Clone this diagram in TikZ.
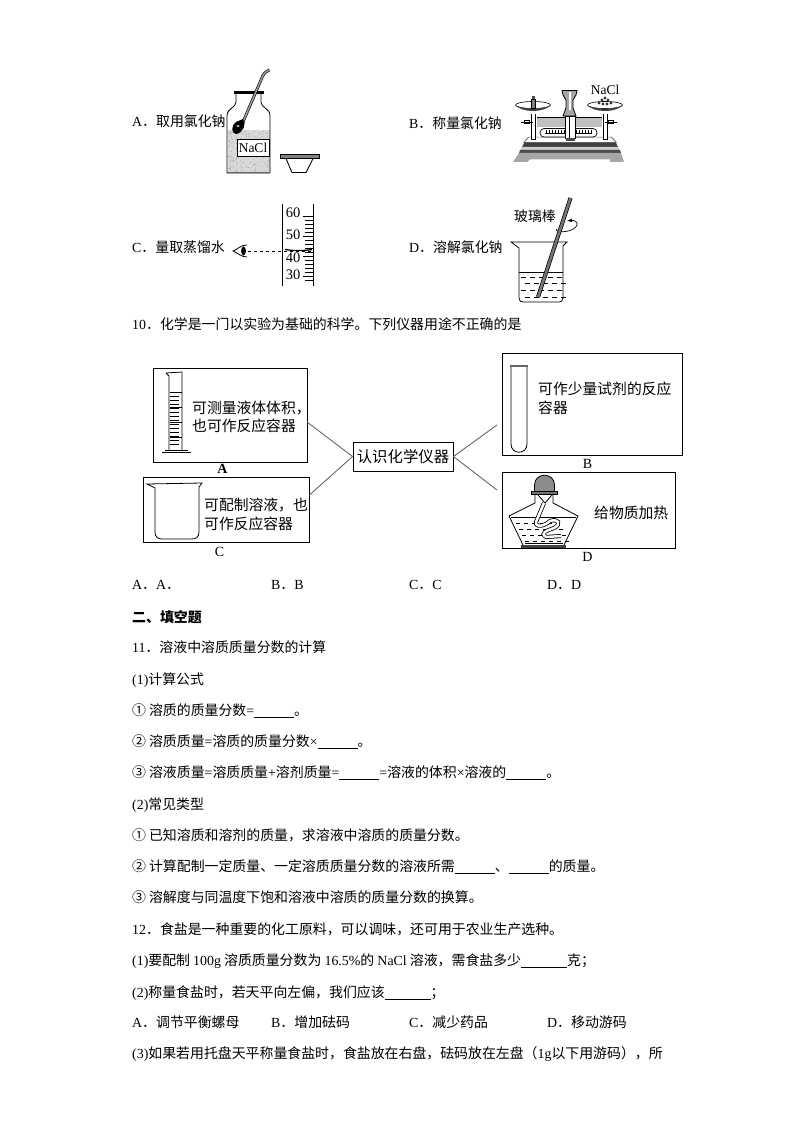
\documentclass[tikz,border=0pt]{standalone}
\usepackage{fontspec}
\setmainfont{Noto Sans CJK SC}
\newfontfamily\latinfont{Liberation Serif}
\usetikzlibrary{positioning, calc}
\newcommand{\Lat}[1]{{\latinfont #1}}
\newcommand{\Blank}[1][40pt]{\rule[-2.5pt]{#1}{.8pt}}
\newcommand{\Num}[1]{#1\kern3pt\relax}
\tikzset{
    row/.style={anchor=west, inner sep=0pt, text height=12pt, text depth=2.5pt, font=\fontsize{13.9}{15}\selectfont},
    boxtext/.style={anchor=west, inner sep=0pt, align=left, font=\fontsize{14.8}{18.5}\selectfont},
    serif/.style={inner sep=0pt, font=\latinfont\fontsize{14}{15}\selectfont},
    framebox/.style={draw, line width=.9pt, anchor=north west, inner sep=0pt},
    link/.style={draw=black!60, line width=.9pt},
    glass/.style={line width=.8pt, rounded corners=0pt},
    rod/.style={double=black!55, double distance=2.6pt, line width=.7pt},
    pan/.pic = {
    \draw[line width=.6pt] (0,0) ellipse (17.5 and 3.5);
    \fill[black!75] (-17.5,0) .. controls (-12,8) and (12,8) .. (17.5,0) .. controls (12,5) and (-12,5) .. cycle;
    \fill[white] (-13,8) rectangle (13,9);
    },
    knob/.pic = {
    \draw[line width=.7pt, fill=white] (-2.5,-1.5) rectangle (2.5,1.5);
    \draw[line width=.8pt] (-6,0) -- (6,0);
    },
}

\begin{document}
\begin{tikzpicture}[x=1pt, y=-1pt, line cap=butt]
    \useasboundingbox (0,0) rectangle (794,1123);

    % options of question 9
    \node[row] (optA) at (132,122) {\Lat{A}．取用氯化钠};
    \node[row] (optB) at (409,124) {\Lat{B}．称量氯化钠};
    \node[row] (optC) at (132,248) {\Lat{C}．量取蒸馏水};
    \node[row] (optD) at (409,248) {\Lat{D}．溶解氯化钠};

    % jar and dish
    \fill[black!15] (227.5,130) -- (269.5,130) -- (269.5,172) -- (227.5,172) -- cycle;
    \foreach \i in {1,...,260}
      \fill[black!55] ({228+41*rnd},{131+41*rnd}) circle (.3);
    \draw[glass] (236,92) -- (236,102) .. controls (236,108) and (227,108) .. (227,116) -- (227,173) -- (270,173) -- (270,116) .. controls (270,108) and (261,108) .. (261,102) -- (261,92);
    \draw[line width=2.4pt] (234,92.5) -- (264,92.5);
    \draw[line width=1.4pt, black!60] (228,172.5) -- (269,172.5);
    \node[draw, fill=white, line width=.7pt, minimum width=32pt, minimum height=17.5pt, inner sep=0pt, font=\latinfont\fontsize{13.5}{15}\selectfont] (jarlabel) at (253,148) {NaCl};
    \draw[double=black!40, double distance=1.6pt, line width=.6pt] (269.5,70) .. controls (265,72) and (263,74) .. (261,80) -- (243,122);
    \fill[black] (243,119) .. controls (247,124) and (243,133) .. (236,134) .. controls (231,134) and (231,125) .. (236,122) -- cycle;
    \fill[white] (238,126) ellipse (1.8 and .8);
    \draw[fill=black!50, line width=.5pt] (280,154) rectangle (319,158.5);
    \draw[line width=.9pt] (286,158.5) -- (292,172.5) -- (306,172.5) -- (313,158.5);

    % measuring cylinder and eye
    \draw[line width=.9pt] (282,204) -- (282,286);
    \draw[line width=.9pt] (313,204) -- (313,286);
    \foreach \y in {216,220,...,280}
      \draw[line width=.6pt] (305,\y) -- (313,\y);
    \foreach \y in {216,236,256,276}
      \draw[line width=.6pt] (303,\y) -- (313,\y);
    \node[serif, font=\latinfont\fontsize{14.5}{15}\selectfont] (mark60) at (293,213) {60};
    \node[serif, font=\latinfont\fontsize{14.5}{15}\selectfont] (mark50) at (293,235) {50};
    \node[serif, font=\latinfont\fontsize{14.5}{15}\selectfont] (mark40) at (293,258) {40};
    \node[serif, font=\latinfont\fontsize{14.5}{15}\selectfont] (mark30) at (293,275) {30};
    \draw[line width=1.3pt] (285,249.5) .. controls (295,251) and (302,251) .. (312,249.5);
    \draw[dashed, line width=.7pt] (248,251) -- (314,251);
    \draw[line width=.8pt] (247,245) .. controls (241,245) and (238,249) .. (233,251) .. controls (238,253) and (241,257) .. (247,257);
    \fill (243.5,251) ellipse (2.4 and 4.5);

    % balance
    \fill[black!25] (537,117) rectangle (602,127);
    \draw[line width=.6pt] (537,117) -- (602,117);
    \fill[black!60] (528,137) -- (612,137) -- (617,143) -- (523,143) -- cycle;
    \fill[white] (529,137.5) -- (611,137.5) -- (615,142) -- (525,142) -- cycle;
    \fill[black!75] (524,143) -- (616,143) -- (618,147) -- (522,147) -- cycle;
    \fill[black!20] (522,147) -- (618,147) -- (620,150) -- (520,150) -- cycle;
    \fill[black!70] (520,150) -- (620,150) -- (621,153) -- (519,153) -- cycle;
    \fill[black!35] (519,153) -- (621,153) -- (624,162) -- (610,162) -- (610,159.5) -- (530,159.5) -- (527,162) -- (513,162) -- cycle;
    \draw[rounded corners=4pt, line width=.7pt, fill=white] (540,128.5) rectangle (597,137);
    \foreach \x in {546,549,...,591}
      \draw[line width=.5pt] (\x,130) -- (\x,133);
    \draw[line width=.7pt] (545,133) -- (592,133);
    \draw[line width=1pt, fill=white] (531.5,114) rectangle (535,140);
    \draw[line width=1pt, fill=white] (603.5,114) rectangle (607,140);
    \pic at (533,105) {pan};
    \pic at (605,105) {pan};
    \pic at (527,122) {knob};
    \pic at (611,122) {knob};
    \draw[fill=black!50, line width=.5pt] (531,99) rectangle (535.5,108);
    \fill[black!70] (532,96) rectangle (534.5,99);
    \foreach \x/\y in {599/103, 602/100, 605/98, 608/100, 611/103, 603/104, 607/104}
      \fill[black!80] (\x,\y) circle (1.6);
    \draw[line width=.8pt, fill=black!35] (562,90.5) -- (577,90.5) -- (576,95) -- (573,100) -- (573,108) -- (576,116) -- (563,116) -- (566,108) -- (566,100) -- (563,95) -- cycle;
    \fill[white] (568.5,92) rectangle (570.5,110);
    \draw[line width=.9pt, fill=white] (565,116) rectangle (575,138);
    \draw[line width=.7pt] (569.5,116) -- (569.5,138);
    \fill[black!70] (565.5,138) rectangle (574.5,141);
    \node[serif, font=\latinfont\fontsize{13.5}{15}\selectfont] (panlabel) at (605,90) {NaCl};

    % beaker with stirring rod
    \draw[glass] (511,242) -- (567,242) -- (563,246) -- (563,298) .. controls (563,301) and (561,302) .. (559,302) -- (523,302) .. controls (521,302) and (519,301) .. (519,298) -- (519,248) -- cycle;
    \draw[line width=.8pt] (519,272) -- (563,272);
    \foreach \y/\s in {277/521, 283/525, 290/521, 297/525}
      \foreach \x in {0,9,18,27,36}
        \draw[line width=.6pt] ({\s+\x},\y) -- ({\s+\x+5},\y);
    \draw[line width=.7pt] (556,229) .. controls (556,234) and (575,232) .. (577,225);
    \draw[rod] (570.5,198) -- (538,297);
    \draw[-latex, line width=.7pt] (577,225) .. controls (578,222) and (574,220) .. (567,221);
    \node[row, anchor=center] (rodlabel) at (535,217) {玻璃棒};

    % question 10
    \node[row] (q10) at (132,325) {\Lat{10}．化学是一门以实验为基础的科学。下列仪器用途不正确的是};

    \node[framebox, minimum width=154pt, minimum height=94pt] (boxA) at (153,368) {};
    \node[framebox, minimum width=166pt, minimum height=65pt] (boxC) at (143,477) {};
    \node[framebox, minimum width=180pt, minimum height=102pt] (boxB) at (502,353) {};
    \node[framebox, minimum width=173pt, minimum height=76pt] (boxD) at (502,472) {};
    \node[draw, line width=.9pt, minimum width=100pt, minimum height=29pt, inner sep=0pt, font=\fontsize{15.4}{18}\selectfont] (hub) at (403,456.5) {认识化学仪器};

    \node[boxtext] (textA) at (192,417) {可测量液体体积，\\也可作反应容器};
    \node[boxtext] (textC) at (204,514.5) {可配制溶液，也\\可作反应容器};
    \node[boxtext] (textB) at (538,398.5) {可作少量试剂的反应\\容器};
    \node[boxtext] (textD) at (594,512.5) {给物质加热};

    \node[serif, font=\latinfont\bfseries\fontsize{14}{15}\selectfont, below=1.5pt of boxA.south, xshift=-8pt] (capA) {A};
    \node[serif, below=4.5pt of boxC.south, xshift=-7pt] (capC) {C};
    \node[serif, below=3pt of boxB.south, xshift=-5pt] (capB) {B};
    \node[serif, below=3pt of boxD.south, xshift=-1.5pt] (capD) {D};

    \coordinate (endA) at (307,422);
    \coordinate (endC) at (309.5,495);
    \coordinate (endB) at (497,425);
    \coordinate (endD) at (497,490);
    \draw[link] (hub.west) -- (endA);
    \draw[link] (hub.west) -- (endC);
    \draw[link] (hub.east) -- (endB);
    \draw[link] (hub.east) -- (endD);

    % graduated cylinder in box A
    \draw[glass] (166,373) -- (182,372) -- (182,451);
    \draw[glass] (166,373) -- (169,376) -- (169,451);
    \draw[line width=.8pt] (162,452.5) -- (191,452.5);
    \draw[line width=.6pt] (165,450.5) -- (188,450.5);
    \foreach \y in {392,396,...,446}
      \draw[line width=.6pt] (170,\y) -- (179,\y);
    \foreach \y in {392,407,422,437}
      \draw[line width=.6pt] (170,\y) -- (182,\y);

    % beaker in box C
    \draw[glass] (147,484) -- (202,483) -- (199,487) -- (199,532) .. controls (199,537) and (196,539) .. (192,539) -- (162,539) .. controls (158,539) and (155,537) .. (155,532) -- (155,488) -- cycle;

    % test tube in box B
    \draw[glass] (511,365) -- (511,444) .. controls (511,455) and (527,455) .. (527,444) -- (527,365);
    \draw[line width=2pt, black!60] (509.5,365.5) -- (528,365.5);

    % alcohol lamp in box D
    \draw[line width=.8pt] (535,494) -- (535,503) -- (509,516) -- (523,545);
    \draw[line width=.8pt] (553,494) -- (553,503) -- (578,516) -- (564,545);
    \draw[line width=.8pt, fill=black!45] (534.5,492) -- (534.5,485) .. controls (534.5,472) and (554.5,472) .. (554.5,485) -- (554.5,492) -- cycle;
    \draw[line width=.8pt, fill=black!55] (531,491.5) rectangle (557,494.5);
    \draw[line width=.7pt] (511,517) -- (576,517);
    \foreach \y/\s in {523/516, 529/519, 535/522, 541/525}
      \foreach \x in {0,8,16,24,32,40}
        \draw[line width=.6pt] ({\s+\x},\y) -- ({\s+\x+4},\y);
    \draw[line width=.8pt] (538,495) -- (545,503) -- (552,495);
    \draw[double=white, double distance=2.5pt, line width=.8pt] (544,503) -- (536,522) .. controls (535,528) and (545,526) .. (550,521) .. controls (558,518) and (562,524) .. (554,528) .. controls (546,531) and (540,533) .. (546,537) -- (561,536);
    \fill[black!75] (521,545) rectangle (566,547.5);
    \draw[line width=.6pt] (525,543.5) -- (563,543.5);

    % choices and part two
    \node[row] (ansA) at (132,585) {\Lat{A}．\Lat{A}．};
    \node[row] (ansB) at (271,585) {\Lat{B}．\Lat{B}};
    \node[row] (ansC) at (409,585) {\Lat{C}．\Lat{C}};
    \node[row] (ansD) at (547,585) {\Lat{D}．\Lat{D}};
    \node[row, font=\fontsize{13.9}{15}\selectfont\bfseries] (part2) at (132,617.5) {二、填空题};

    \node[row] (q11) at (132,648) {\Lat{11}．溶液中溶质质量分数的计算};
    \node[row] (q11a) at (132,679.5) {\Lat{(1)}计算公式};
    \node[row] (q11b) at (132,711) {\Num{①}溶质的质量分数\Lat{=}\Blank{}。};
    \node[row] (q11c) at (132,742) {\Num{②}溶质质量\Lat{=}溶质的质量分数\Lat{×}\Blank{}。};
    \node[row] (q11d) at (132,773) {\Num{③}溶液质量\Lat{=}溶质质量\Lat{+}溶剂质量\Lat{=}\Blank{}\Lat{=}溶液的体积\Lat{×}溶液的\Blank{}。};
    \node[row] (q11e) at (132,804.5) {\Lat{(2)}常见类型};
    \node[row] (q11f) at (132,835.5) {\Num{①}已知溶质和溶剂的质量，求溶液中溶质的质量分数。};
    \node[row] (q11g) at (132,867) {\Num{②}计算配制一定质量、一定溶质质量分数的溶液所需\Blank{}、\Blank{}的质量。};
    \node[row] (q11h) at (132,898) {\Num{③}溶解度与同温度下饱和溶液中溶质的质量分数的换算。};

    \node[row] (q12) at (132,929.5) {\Lat{12}．食盐是一种重要的化工原料，可以调味，还可用于农业生产选种。};
    \node[row] (q12a) at (132,961) {\Lat{(1)}要配制 \Lat{100g} 溶质质量分数为 \Lat{16.5\%}的 \Lat{NaCl} 溶液，需食盐多少\Blank[46pt]克；};
    \node[row] (q12b) at (132,992.5) {\Lat{(2)}称量食盐时，若天平向左偏，我们应该\Blank[46pt]；};
    \node[row] (c12A) at (132,1022.5) {\Lat{A}．调节平衡螺母};
    \node[row] (c12B) at (271,1022.5) {\Lat{B}．增加砝码};
    \node[row] (c12C) at (409,1022.5) {\Lat{C}．减少药品};
    \node[row] (c12D) at (547,1022.5) {\Lat{D}．移动游码};
    \node[row] (q12c) at (132,1054) {\Lat{(3)}如果若用托盘天平称量食盐时，食盐放在右盘，砝码放在左盘（\Lat{1g}以下用游码），所};
\end{tikzpicture}
\end{document}
